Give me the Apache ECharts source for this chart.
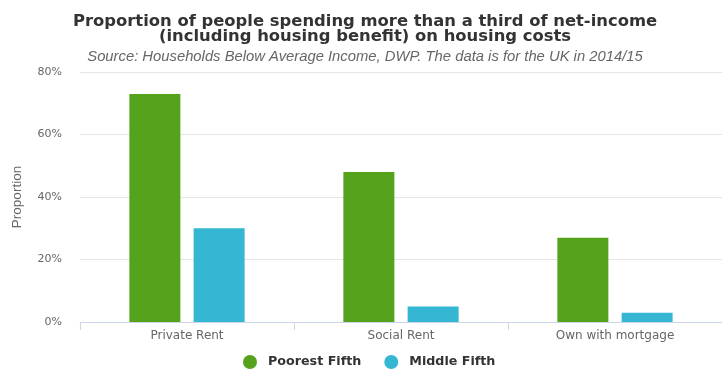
<!DOCTYPE html>
<html><head><meta charset="utf-8">
<script src="https://cdn.jsdelivr.net/npm/echarts@6/dist/echarts.min.js"></script>
<style>html,body{margin:0;padding:0;background:#fff}#c{width:722px;height:369px}</style>
</head><body><div id="c"></div>
<script>
const categories = ["Private Rent", "Social Rent", "Own with mortgage"];
const poorestFifth = [73, 48, 27];
const middleFifth = [30, 5, 3];
const yTicks = [0, 20, 40, 60, 80];

const chart = echarts.init(document.getElementById('c'));
const F = '"DejaVu Sans", Arial, sans-serif';
chart.setOption({
  animation: false,
  textStyle: { fontFamily: F },
  title: [{
    text: 'Proportion of people spending more than a third of net-income\n(including housing benefit) on housing costs',
    left: 360, textAlign: 'center', top: 9,
    textStyle: { fontSize: 16.4, fontWeight: 'bold', color: '#333', lineHeight: 15, fontFamily: F }
  }, {
    text: 'Source: Households Below Average Income, DWP. The data is for the UK in 2014/15',
    left: 360, textAlign: 'center', top: 44,
    textStyle: { fontSize: 14.8, fontWeight: 'normal', fontStyle: 'italic', color: '#666', fontFamily: '"Liberation Sans", Arial, sans-serif' }
  }],
  legend: {
    top: 355, left: 243, padding: 0, icon: 'circle', itemWidth: 14, itemHeight: 14, itemGap: 23,
    textStyle: { fontSize: 12.7, fontWeight: 'bold', color: '#333', fontFamily: F, padding: [0, 0, 0, 6] },
    data: ['Poorest Fifth', 'Middle Fifth']
  },
  grid: { left: 80, right: 0, top: 72, bottom: 47 },
  xAxis: {
    type: 'category', data: categories,
    axisLine: { lineStyle: { color: '#ccd6eb' } },
    axisTick: { show: true, alignWithLabel: false, length: 8, lineStyle: { color: '#ccd6eb' } },
    axisLabel: { color: '#666', fontSize: 12, margin: 8, fontFamily: F }
  },
  yAxis: {
    type: 'value', min: yTicks[0], max: yTicks[yTicks.length - 1], interval: 20,
    name: 'Proportion', nameLocation: 'middle', nameGap: 56, nameRotate: 90,
    nameTextStyle: { color: '#666', fontSize: 13.5, fontFamily: '"Liberation Sans Narrow", "Liberation Sans", Arial, sans-serif' },
    axisLabel: { color: '#666', fontSize: 11, formatter: '{value}%', margin: 18, fontFamily: F },
    axisLine: { show: false }, axisTick: { show: false },
    splitLine: { lineStyle: { color: '#e6e6e6' } }
  },
  series: [{
    name: 'Poorest Fifth', type: 'bar', data: poorestFifth, barWidth: 51, barGap: '26%',
    itemStyle: { color: '#55a31c' }
  }, {
    name: 'Middle Fifth', type: 'bar', data: middleFifth, barWidth: 51,
    itemStyle: { color: '#35b6d2' }
  }]
});
</script></body></html>
